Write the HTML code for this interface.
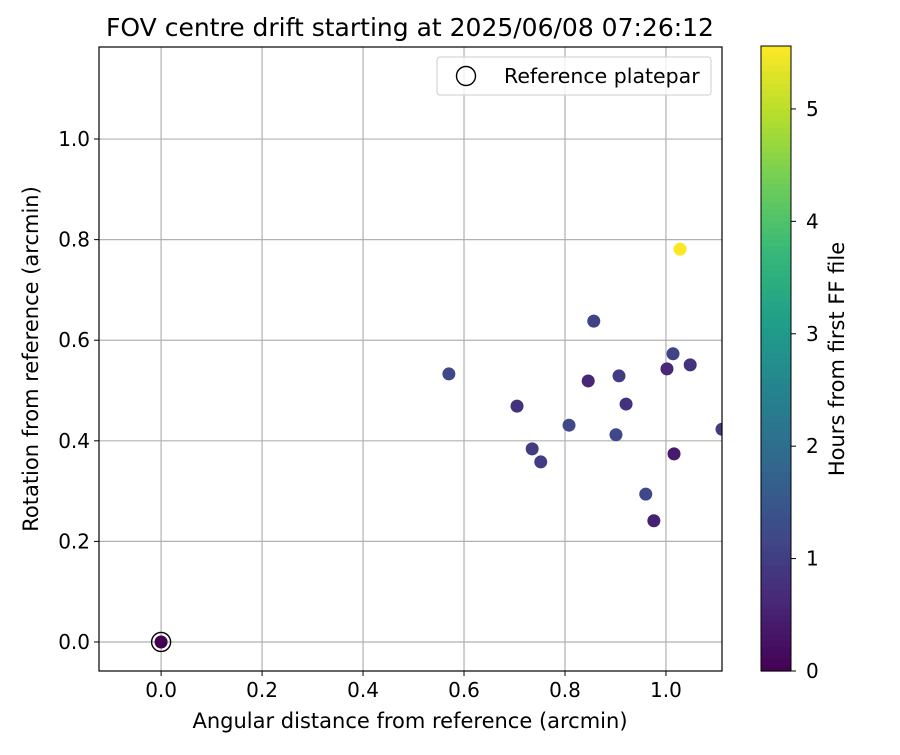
<!DOCTYPE html>
<html><head><meta charset="utf-8"><style>
body{margin:0;background:#fff;font-family:"Liberation Sans","DejaVu Sans",sans-serif;}
svg text{font-family:"DejaVu Sans","Liberation Sans",sans-serif;}
</style></head><body>
<svg id="c" width="900" height="750" xmlns="http://www.w3.org/2000/svg"></svg>
<script>
const xVals=[0.570,0.705,0.735,0.752,0.808,0.846,0.857,0.907,0.921,0.901,0.960,0.976,1.002,1.014,1.016,1.048,1.028,1.111];
const yVals=[0.533,0.469,0.384,0.358,0.431,0.519,0.638,0.529,0.473,0.412,0.294,0.241,0.543,0.573,0.374,0.551,0.781,0.423];
const hours=[1.2,0.8,1.0,1.0,1.2,0.6,1.1,1.0,0.8,1.2,1.2,0.5,0.6,1.1,0.4,0.8,5.56,1.0];
const refPoint=[0,0];
const xTicks=[0.0,0.2,0.4,0.6,0.8,1.0];
const yTicks=[0.0,0.2,0.4,0.6,0.8,1.0];
const cTicks=[0,1,2,3,4,5];
const X0=99,X1=722,Y0=47,Y1=671,xmin=-0.123,xmax=1.111,ymin=-0.0577,ymax=1.183,cmax=5.56;
const sx=v=>X0+(v-xmin)/(xmax-xmin)*(X1-X0);
const sy=v=>Y1-(v-ymin)/(ymax-ymin)*(Y1-Y0);
const CB0=46,CB1=671;const sc=v=>CB1-v/cmax*(CB1-CB0);
const vir=[[68,1,84],[72,40,120],[62,74,137],[49,104,142],[38,130,142],[31,158,137],[53,183,121],[109,205,89],[180,222,44],[253,231,37]];
function col(t){t=Math.max(0,Math.min(1,t))*(vir.length-1);const i=Math.min(vir.length-2,Math.floor(t)),f=t-i;const a=vir[i],b=vir[i+1];return `rgb(${a.map((v,k)=>Math.round(v+(b[k]-v)*f)).join(',')})`;}
const svg=document.getElementById('c');const NS='http://www.w3.org/2000/svg';
function el(tag,at,name,txt){const e=document.createElementNS(NS,tag);for(const k in at)e.setAttribute(k,at[k]);


if(txt!==undefined)e.textContent=txt;svg.appendChild(e);return e;}
el('text',{x:410,y:36,'text-anchor':'middle','font-size':'25'},'chart-title','FOV centre drift starting at 2025/06/08 07:26:12');
const defs=el('defs',{},'defs');
const cp=document.createElementNS(NS,'clipPath');cp.setAttribute('id','pc');
const r=document.createElementNS(NS,'rect');r.setAttribute('x',X0);r.setAttribute('y',Y0);r.setAttribute('width',X1-X0);r.setAttribute('height',Y1-Y0);cp.appendChild(r);defs.appendChild(cp);
xTicks.forEach(t=>{const x=sx(t);el('line',{x1:x,x2:x,y1:Y0,y2:Y1,stroke:'#b0b0b0','stroke-width':1.2},'x-gridline');
el('line',{x1:x,x2:x,y1:Y1,y2:Y1+5,stroke:'#000'},'x-tick');
el('text',{x:x,y:Y1+26,'text-anchor':'middle','font-size':'20'},'x-tick-label',t.toFixed(1));});
yTicks.forEach(t=>{const y=sy(t);el('line',{x1:X0,x2:X1,y1:y,y2:y,stroke:'#b0b0b0','stroke-width':1.2},'y-gridline');
el('line',{x1:X0-5,x2:X0,y1:y,y2:y,stroke:'#000'},'y-tick');
el('text',{x:X0-9,y:y+7,'text-anchor':'end','font-size':'20'},'y-tick-label',t.toFixed(1));});
const g=el('g',{'clip-path':'url(#pc)'},'points');
xVals.forEach((v,i)=>{const c=document.createElementNS(NS,'circle');c.setAttribute('cx',sx(v));c.setAttribute('cy',sy(yVals[i]));c.setAttribute('r',6.5);c.setAttribute('fill',col(hours[i]/cmax));


g.appendChild(c);});
el('circle',{cx:sx(refPoint[0]),cy:sy(refPoint[1]),r:6.5,fill:col(0)},'reference-point');
el('circle',{cx:sx(refPoint[0]),cy:sy(refPoint[1]),r:9.5,fill:'none',stroke:'#000','stroke-width':1.4},'reference-ring');
el('rect',{x:X0,y:Y0,width:X1-X0,height:Y1-Y0,fill:'none',stroke:'#000','stroke-width':1.2},'plot-frame');
el('text',{x:410,y:728,'text-anchor':'middle','font-size':'21'},'x-axis-title','Angular distance from reference (arcmin)');
el('text',{x:38,y:359,'text-anchor':'middle','font-size':'21',transform:'rotate(-90 38 359)'},'y-axis-title','Rotation from reference (arcmin)');
el('rect',{x:437,y:57,width:274,height:38,rx:3,fill:'#fff','fill-opacity':0.8,stroke:'#ccc'},'legend-box');
el('circle',{cx:466,cy:76,r:9.5,fill:'none',stroke:'#000','stroke-width':1.4},'legend-marker');
el('text',{x:504,y:83,'font-size':'20.5'},'legend-label','Reference platepar');
for(let i=0;i<100;i++){const y0=CB1-(i+1)*(CB1-CB0)/100;el('rect',{x:761,y:y0,width:30,height:(CB1-CB0)/100+0.6,fill:col((i+0.5)/100)},'colorbar-segment');}
el('rect',{x:761,y:CB0,width:30,height:CB1-CB0,fill:'none',stroke:'#000'},'colorbar-frame');
cTicks.forEach(t=>{const y=sc(t);el('line',{x1:791,x2:796,y1:y,y2:y,stroke:'#000'},'colorbar-tick');
el('text',{x:806,y:y+7,'font-size':'20'},'colorbar-tick-label',String(t));});
el('text',{x:844,y:359,'text-anchor':'middle','font-size':'21',transform:'rotate(-90 844 359)'},'colorbar-title','Hours from first FF file');
</script></body></html>
